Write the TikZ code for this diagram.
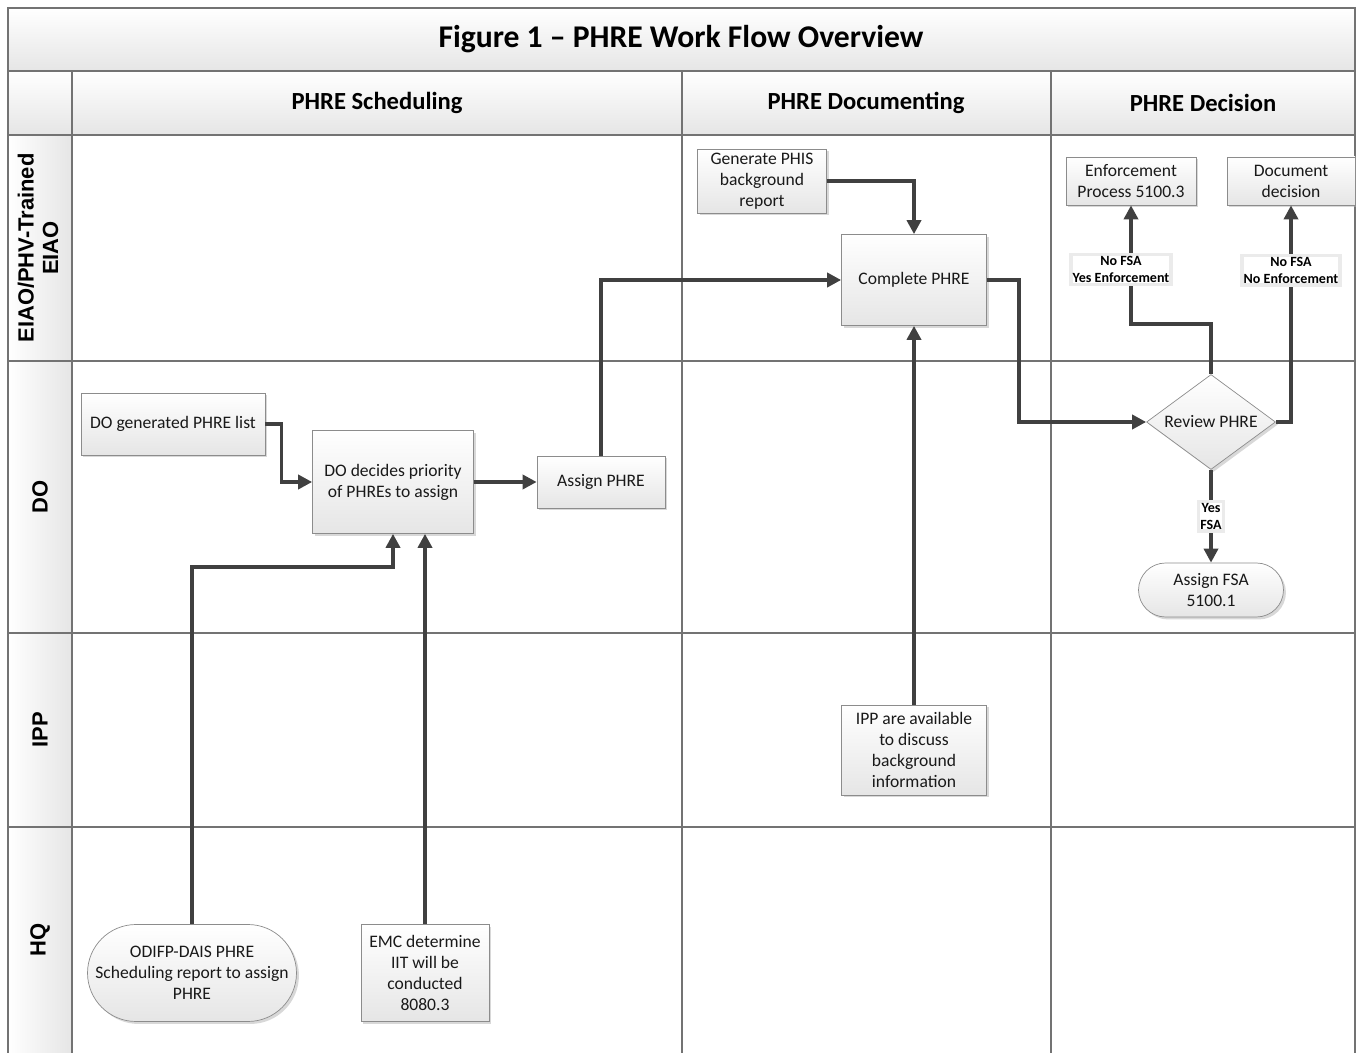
\documentclass[tikz,border=0pt]{standalone}
\usepackage{fontspec}
\setmainfont{Carlito}
\newfontfamily\lanefont{Liberation Sans}
\usetikzlibrary{arrows.meta,shapes.geometric,shadows}

\begin{document}
\begin{tikzpicture}[x=0.02cm,y=-0.02cm,
  grid/.style={draw=black!55, line width=0.8pt},
  box/.style={draw=black!45, top color=white, bottom color=black!10,
    drop shadow={shadow xshift=1.4pt, shadow yshift=-1.4pt, fill=black!30},
    align=center, text=black!90, inner sep=1pt, font=\fontsize{10}{12}\selectfont},
  term/.style={box, rounded corners=#1},
  dec/.style={box, diamond, aspect=1.4, inner sep=0pt},
  hdr/.style={font=\fontsize{14}{16}\selectfont\bfseries},
  lane/.style={rotate=90, align=center, font=\lanefont\fontsize{12.5}{14}\selectfont\bfseries},
  lbl/.style={fill=white, draw=black!8, inner sep=1pt, align=center,
    font=\fontsize{8}{9.5}\selectfont\bfseries},
  arr/.style={draw=black!75, line width=2pt, -{Triangle[length=8pt,width=8pt]}}]
\useasboundingbox (0,0) rectangle (1356,1053);

% swimlanes
\shade[top color=white, bottom color=black!10] (8,8) rectangle (1355,71);
\foreach \a/\b in {8/72,72/682,682/1051,1051/1355}
  \shade[top color=white, bottom color=black!10] (\a,71) rectangle (\b,135);
\foreach \a/\b in {135/361,361/633,633/827,827/1053}
  \shade[left color=white, right color=black!10] (8,\a) rectangle (72,\b);
\draw[grid] (8,1053) -- (8,8) -- (1355,8) -- (1355,1053);
\foreach \y in {71,135,361,633,827}
  \draw[grid] (8,\y) -- (1355,\y);
\foreach \x in {72,682,1051}
  \draw[grid] (\x,71) -- (\x,1053);

\node[font=\fontsize{18}{21}\selectfont\bfseries] (title) at (681,39) {Figure 1 – PHRE Work Flow Overview};
\node[hdr] (sched) at (377,103) {PHRE Scheduling};
\node[hdr] (docu) at (866,103) {PHRE Documenting};
\node[hdr] (deci) at (1203,103) {PHRE Decision};

\node[lane] (eiao) at (38,248) {EIAO/PHV-Trained\\EIAO};
\node[lane] (do) at (40,497) {DO};
\node[lane] (ipp) at (40,730) {IPP};
\node[lane] (hq) at (40,940) {HQ};

% steps
\node[box, minimum width=3.68cm, minimum height=1.24cm] (list) at (173,424) {DO generated PHRE list};
\node[box, minimum width=3.22cm, minimum height=2.06cm] (prio) at (393,482) {DO decides priority\\of PHREs to assign};
\node[box, minimum width=2.56cm, minimum height=1.04cm] (assign) at (601,482) {Assign PHRE};
\node[term=0.97cm, minimum width=4.18cm, minimum height=1.94cm] (odifp) at (192,973) {ODIFP-DAIS PHRE\\Scheduling report to assign\\PHRE};
\node[box, minimum width=2.56cm, minimum height=1.94cm] (emc) at (425,973) {EMC determine\\IIT will be\\conducted\\8080.3};
\node[box, minimum width=2.58cm, minimum height=1.28cm] (phis) at (762,181) {Generate PHIS\\background\\report};
\node[box, minimum width=2.9cm, minimum height=1.82cm] (complete) at (914,280) {Complete PHRE};
\node[box, minimum width=2.9cm, minimum height=1.8cm] (avail) at (914,750) {IPP are available\\to discuss\\background\\information};
\node[box, minimum width=2.6cm, minimum height=0.96cm] (enf) at (1131,181) {Enforcement\\Process 5100.3};
\node[box, minimum width=2.56cm, minimum height=0.96cm] (docdec) at (1291,181) {Document\\decision};
\node[dec, minimum width=2.58cm, minimum height=1.9cm] (review) at (1211,422) {Review PHRE};
\node[term=0.54cm, minimum width=2.9cm, minimum height=1.08cm] (fsa) at (1211,590) {Assign FSA\\5100.1};

% flow
\draw[arr] (list.east) -- +(16,0) |- (prio.west);
\draw[arr] (prio) -- (assign);
\draw[arr] (odifp.north) -- (odifp.north |- 0,567) -| (prio.south);
\draw[arr] (emc.north) -- (emc.north |- prio.south);
\draw[arr] (assign.north) |- (complete.west);
\draw[arr] (phis.east) -| (complete.north);
\draw[arr] (avail.north) -- (complete.south);
\draw[arr] (complete.east) -- +(32,0) |- (review.west);
\draw[arr] (review.north) -- +(0,-50) -| node[lbl, pos=0.73, xshift=-0.2cm] {No FSA\\Yes Enforcement} (enf.south);
\draw[arr] (review.east) -| node[lbl, pos=0.85] {No FSA\\No Enforcement} (docdec.south);
\draw[arr] (review.south) -- node[lbl] {Yes\\FSA} (fsa.north);
\end{tikzpicture}
\end{document}
